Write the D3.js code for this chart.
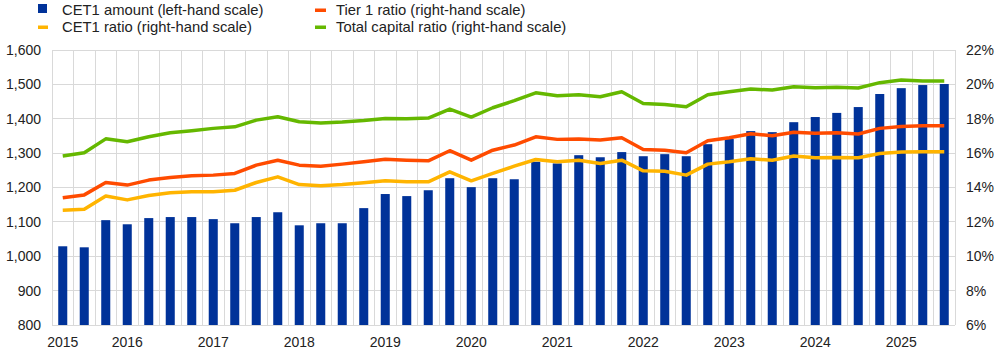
<!DOCTYPE html>
<html>
<head>
<meta charset="utf-8">
<script src="https://cdn.jsdelivr.net/npm/d3@7"></script>
<style>
html,body{margin:0;padding:0;background:#fff;}
text{font-family:"Liberation Sans",Arial,sans-serif;}
</style>
</head>
<body>
<svg id="chart" width="1005" height="356"></svg>
<script>
const quarters = [];
for (let y = 2015; y <= 2025; y++) for (let q = 1; q <= 4; q++) if (!(y === 2025 && q > 2)) quarters.push(y + "Q" + q);

const cet1Amount = [1029,1026,1105,1093,1111,1114,1114,1108,1096,1114,1128,1090,1096,1096,
  1140,1181,1175,1192,1227,1201,1227,1224,1275,1270,1294,1288,1303,1291,
  1297,1291,1326,1341,1364,1361,1390,1405,1417,1434,1472,1489,1498,1501];
const cet1Ratio = [12.68,12.74,13.51,13.28,13.53,13.69,13.75,13.75,13.84,14.29,14.62,14.17,14.10,14.17,
  14.27,14.39,14.33,14.33,14.91,14.39,14.82,15.24,15.63,15.50,15.59,15.40,15.59,14.97,
  14.95,14.72,15.36,15.50,15.67,15.59,15.83,15.73,15.75,15.73,15.98,16.06,16.08,16.08];
const tier1Ratio = [13.40,13.57,14.29,14.14,14.43,14.58,14.68,14.72,14.82,15.30,15.59,15.30,15.24,15.36,
  15.50,15.65,15.59,15.55,16.14,15.59,16.17,16.47,16.95,16.80,16.82,16.76,16.89,16.21,
  16.17,16.02,16.72,16.89,17.13,17.01,17.22,17.15,17.18,17.11,17.44,17.55,17.59,17.59];
const totalRatio = [15.83,16.02,16.83,16.66,16.95,17.18,17.30,17.44,17.53,17.92,18.12,17.83,17.75,17.81,
  17.90,18.02,18.00,18.04,18.56,18.10,18.64,19.05,19.51,19.34,19.40,19.28,19.57,18.89,
  18.83,18.70,19.40,19.57,19.73,19.67,19.86,19.81,19.83,19.79,20.10,20.25,20.19,20.19];

const leftTicks = [800,900,1000,1100,1200,1300,1400,1500,1600];
const rightTicks = [6,8,10,12,14,16,18,20,22];
const yearLabels = [["2015Q1","2015"],["2015Q4","2016"],["2016Q4","2017"],["2017Q4","2018"],["2018Q4","2019"],
  ["2019Q4","2020"],["2020Q4","2021"],["2021Q4","2022"],["2022Q4","2023"],["2023Q4","2024"],["2024Q4","2025"]];

const seriesNames = ["CET1 amount (left-hand scale)","CET1 ratio (right-hand scale)","Tier 1 ratio (right-hand scale)","Total capital ratio (right-hand scale)"];
const colors = {bar:"#003299", cet1:"#FFB400", tier1:"#FF4B00", total:"#65B800"};

const svg = d3.select("#chart");
const L = 52, R = 955, T = 50, B = 325;
const x = d3.scaleBand().domain(quarters).range([L, R]).paddingInner(0.58).paddingOuter(0.29);
const yL = d3.scaleLinear().domain([800,1600]).range([B, T]);
const yR = d3.scaleLinear().domain([6,22]).range([B, T]);
const step = x.step();

// gridlines
const grid = svg.append("g");
grid.selectAll("line.h").data(leftTicks).join("line")
  .attr("x1", L).attr("x2", R).attr("y1", d => yL(d)).attr("y2", d => yL(d))
  .attr("stroke", "#d9d9d9").attr("stroke-width", 1).attr("shape-rendering","crispEdges");
const vb = quarters.map((q,i) => x(q) - (step - x.bandwidth())/2);
vb.push(R);
grid.selectAll("line.v").data(vb).join("line")
  .attr("x1", d => d).attr("x2", d => d).attr("y1", T).attr("y2", B)
  .attr("stroke", "#d9d9d9").attr("stroke-width", 1).attr("shape-rendering","crispEdges");

// bars
svg.append("g").selectAll("rect").data(cet1Amount).join("rect")
  .attr("x", (d,i) => x(quarters[i])).attr("width", x.bandwidth())
  .attr("y", d => yL(d)).attr("height", d => B - yL(d))
  .attr("fill", colors.bar);

// lines
const line = d3.line().x((d,i) => x(quarters[i]) + x.bandwidth()/2).y(d => yR(d));
[[cet1Ratio, colors.cet1],[tier1Ratio, colors.tier1],[totalRatio, colors.total]].forEach(([data, c]) => {
  svg.append("path").datum(data).attr("d", line).attr("fill","none")
    .attr("stroke", c).attr("stroke-width", 3.5).attr("stroke-linejoin","round");
});

// axes
const axL = d3.axisLeft(yL).tickValues(leftTicks).tickFormat(d3.format(",")).tickSize(0).tickPadding(11);
const gL = svg.append("g").attr("transform", `translate(${L},0)`).call(axL);
gL.select(".domain").remove();
gL.selectAll("text").attr("font-size", 14).attr("fill", "#222").attr("font-family","Liberation Sans, Arial, sans-serif");

const axR = d3.axisRight(yR).tickValues(rightTicks).tickFormat(d => d + "%").tickSize(0).tickPadding(11);
const gR = svg.append("g").attr("transform", `translate(${R},0)`).call(axR);
gR.select(".domain").remove();
gR.selectAll("text").attr("font-size", 14).attr("fill", "#222").attr("font-family","Liberation Sans, Arial, sans-serif");

// x labels
svg.append("g").selectAll("text").data(yearLabels).join("text")
  .attr("x", d => x(d[0]) + x.bandwidth()/2).attr("y", 347)
  .attr("text-anchor","middle").attr("font-size",14).attr("fill","#222")
  .text(d => d[1]);

// legend
const lg = svg.append("g").attr("font-size", 14.8).attr("fill", "#222");
lg.append("rect").attr("x", 38).attr("y", 4).attr("width", 9).attr("height", 9).attr("fill", colors.bar);
lg.append("text").attr("x", 62).attr("y", 15).text(seriesNames[0]);
lg.append("rect").attr("x", 38).attr("y", 25.5).attr("width", 10).attr("height", 3.5).attr("fill", colors.cet1);
lg.append("text").attr("x", 62).attr("y", 32).text(seriesNames[1]);
lg.append("rect").attr("x", 315).attr("y", 8.5).attr("width", 11).attr("height", 3.5).attr("fill", colors.tier1);
lg.append("text").attr("x", 336).attr("y", 15).text(seriesNames[2]);
lg.append("rect").attr("x", 315).attr("y", 25.5).attr("width", 11).attr("height", 3.5).attr("fill", colors.total);
lg.append("text").attr("x", 336).attr("y", 32).text(seriesNames[3]);
</script>
</body>
</html>
